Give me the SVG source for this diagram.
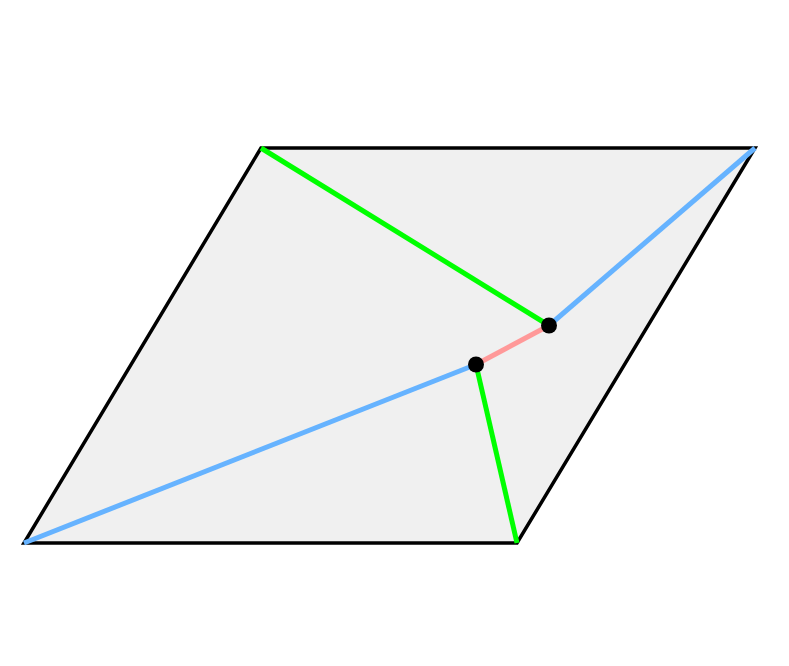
<svg xmlns="http://www.w3.org/2000/svg" width="789" height="666" viewBox="0 0 789 666">
<style>
.edge{fill:none;stroke-width:5;stroke-linecap:butt}
.g{stroke:#00ff00}.b{stroke:#66b3ff}.r{stroke:#ff9999}
.pt{fill:#000}
</style>
<rect width="789" height="666" fill="#fff"/>
<g id="region">
<polygon points="261,148 755,148 517,543 24,543" fill="#f0f0f0" stroke="#000" stroke-width="3.5" stroke-linejoin="miter"/>
</g>
<g id="connectors">
<line class="edge g" x1="261" y1="148" x2="549" y2="325.5"/>
<line class="edge b" x1="755" y1="148" x2="549" y2="325.5"/>
<line class="edge r" x1="549" y1="325.5" x2="476" y2="364.5"/>
<line class="edge b" x1="24" y1="543" x2="476" y2="364.5"/>
<line class="edge g" x1="517" y1="543" x2="476" y2="364.5"/>
</g>
<g id="node1"><circle class="pt" cx="549" cy="325.5" r="8"/></g>
<g id="node2"><circle class="pt" cx="476" cy="364.5" r="8"/></g>
</svg>
